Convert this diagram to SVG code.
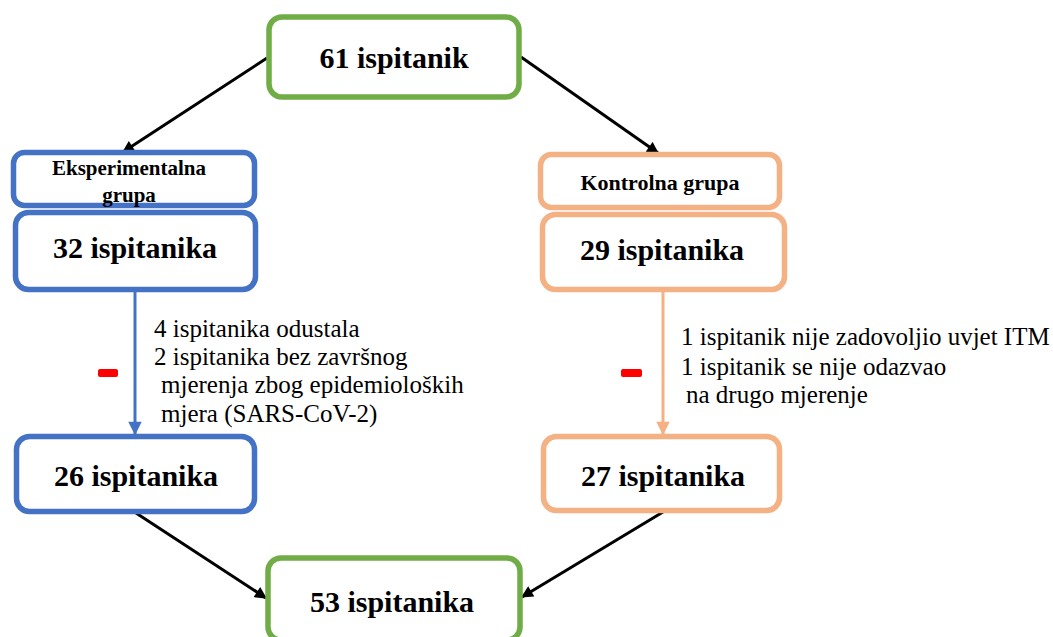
<svg xmlns="http://www.w3.org/2000/svg" width="1053" height="637" viewBox="0 0 1053 637">
<style>
.box{fill:#fff;stroke-width:5.5}
.g{stroke:#70AD47}
.b{stroke:#4472C4}
.o{stroke:#F4B183}
text{font-family:'Liberation Serif','Times New Roman',Times,'DejaVu Serif',serif;fill:#000}
.big{font-weight:bold;font-size:30px;text-anchor:middle}
.hdr{font-weight:bold;font-size:21px;text-anchor:middle}
.note{font-size:25px}
.conn{stroke:#000;stroke-width:3;fill:none}
.minus{fill:#FF0000}
</style>
<defs>
<marker id="ah" viewBox="0 0 10 10" refX="9" refY="5" markerWidth="4.5" markerHeight="4" markerUnits="strokeWidth" orient="auto">
<path d="M0,0 L10,5 L0,10 z" fill="#000"/>
</marker>
<marker id="ahb" viewBox="0 0 10 10" refX="9" refY="5" markerWidth="5" markerHeight="4.5" markerUnits="strokeWidth" orient="auto">
<path d="M0,0 L10,5 L0,10 z" fill="#4472C4"/>
</marker>
<marker id="aho" viewBox="0 0 10 10" refX="9" refY="5" markerWidth="5" markerHeight="4.5" markerUnits="strokeWidth" orient="auto">
<path d="M0,0 L10,5 L0,10 z" fill="#F4B183"/>
</marker>
</defs>

<g id="connectors">
<line class="conn" x1="267" y1="58" x2="123" y2="152" marker-end="url(#ah)"/>
<line class="conn" x1="521" y1="57" x2="658" y2="153" marker-end="url(#ah)"/>
<line x1="135" y1="292" x2="135" y2="434" stroke="#4472C4" stroke-width="3" marker-end="url(#ahb)"/>
<line x1="663" y1="292" x2="663" y2="434" stroke="#F4B183" stroke-width="3" marker-end="url(#aho)"/>
<line class="conn" x1="136" y1="513" x2="266" y2="598" marker-end="url(#ah)"/>
<line class="conn" x1="663" y1="512" x2="522" y2="597" marker-end="url(#ah)"/>
</g>

<g id="n-total">
<rect class="box g" x="269" y="17" width="250" height="80" rx="13"/>
<text class="big" x="394" y="68">61 ispitanik</text>
</g>

<g id="n-exp-label">
<rect class="box b" x="13.5" y="152.5" width="241" height="53" rx="11"/>
<text class="hdr" x="129" y="175">Eksperimentalna</text>
<text class="hdr" x="129" y="202">grupa</text>
</g>

<g id="n-exp-32">
<rect class="box b" x="15.5" y="212.5" width="240" height="77" rx="13"/>
<text class="big" x="135" y="258">32 ispitanika</text>
</g>

<g id="n-ctrl-label">
<rect class="box o" x="540.5" y="154.5" width="239" height="53" rx="11"/>
<text class="hdr" x="660" y="190" style="font-size:22px">Kontrolna grupa</text>
</g>

<g id="n-ctrl-29">
<rect class="box o" x="542.5" y="214.5" width="242" height="75" rx="13"/>
<text class="big" x="662" y="260">29 ispitanika</text>
</g>

<g id="n-exp-note">
<rect class="minus" x="98" y="369" width="20" height="8" rx="2"/>
<text class="note" x="154" y="337">4 ispitanika odustala</text>
<text class="note" x="154" y="365">2 ispitanika bez završnog</text>
<text class="note" x="161" y="393">mjerenja zbog epidemioloških</text>
<text class="note" x="161" y="422">mjera (SARS-CoV-2)</text>
</g>

<g id="n-ctrl-note">
<rect class="minus" x="621" y="369" width="21" height="8" rx="2"/>
<text class="note" x="681" y="345">1 ispitanik nije zadovoljio uvjet ITM</text>
<text class="note" x="681" y="375">1 ispitanik se nije odazvao</text>
<text class="note" x="686" y="403">na drugo mjerenje</text>
</g>

<g id="n-exp-26">
<rect class="box b" x="16.5" y="436.5" width="238" height="75" rx="13"/>
<text class="big" x="136" y="486">26 ispitanika</text>
</g>

<g id="n-ctrl-27">
<rect class="box o" x="543.5" y="436.5" width="236" height="74" rx="13"/>
<text class="big" x="663" y="486">27 ispitanika</text>
</g>

<g id="n-final">
<rect class="box g" x="268" y="558" width="252" height="82" rx="13"/>
<text class="big" x="392" y="612">53 ispitanika</text>
</g>
</svg>
